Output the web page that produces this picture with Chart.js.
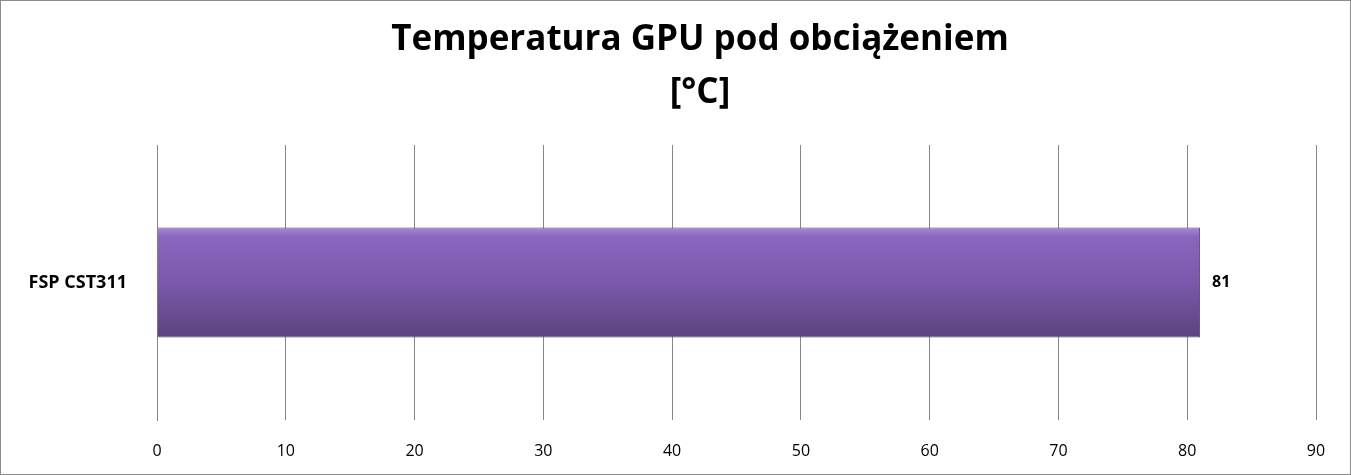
<!DOCTYPE html>
<html lang="pl">
<head>
<meta charset="UTF-8">
<title>Temperatura GPU</title>
<script src="https://cdn.jsdelivr.net/npm/chart.js"></script>
<style>
  html, body { margin: 0; padding: 0; background: #fff; }
  #wrap { width: 1351px; height: 475px; }
</style>
</head>
<body>
<div id="wrap"><canvas id="chart" width="1351" height="475"></canvas></div>
<script>
const categories = ['FSP CST311'];
const temps = [81];
const xTicks = [0, 10, 20, 30, 40, 50, 60, 70, 80, 90];
const titleLines = ['Temperatura GPU pod obciążeniem', '[°C]'];

const FONT = "'Open Sans', 'Liberation Sans', sans-serif";

// frame + title drawn by hand so the title sits where the original has it
const frame = {
  id: 'frame',
  afterDraw(chart) {
    const c = chart.ctx;
    c.save();
    c.strokeStyle = '#8c8c8c';
    c.lineWidth = 1;
    c.strokeRect(0.5, 0.5, chart.width - 1, chart.height - 1);
    c.font = 'bold 35px ' + FONT;
    c.fillStyle = '#000';
    c.textAlign = 'center';
    c.textBaseline = 'middle';
    c.fillText(titleLines[0], 700, 40);
    c.fillText(titleLines[1], 700, 93);
    c.restore();
  }
};

// value written just right of each bar
const valueLabels = {
  id: 'valueLabels',
  afterDatasetsDraw(chart) {
    const c = chart.ctx;
    c.save();
    c.font = 'bold 16px ' + FONT;
    c.fillStyle = '#000';
    c.textBaseline = 'middle';
    chart.getDatasetMeta(0).data.forEach((bar, i) => {
      c.fillText(String(temps[i]), bar.x + 12, bar.y);
    });
    c.restore();
  }
};

const ctx = document.getElementById('chart').getContext('2d');
new Chart(ctx, {
  type: 'bar',
  data: {
    labels: categories,
    datasets: [{
      data: temps,
      backgroundColor: (context) => {
        const a = context.chart.chartArea;
        if (!a) return '#7d5aa8';
        const g = context.chart.ctx.createLinearGradient(0, 228, 0, 338);
        g.addColorStop(0, '#a588d6');
        g.addColorStop(0.08, '#8a66be');
        g.addColorStop(0.5, '#7a58aa');
        g.addColorStop(1, '#5c437f');
        return g;
      },
      borderColor: '#5a3f7e',
      borderWidth: 1,
      barPercentage: 0.8,
      categoryPercentage: 0.5
    }]
  },
  options: {
    indexAxis: 'y',
    responsive: false,
    animation: false,
    layout: { padding: { left: 0, right: 35, top: 145, bottom: 0 } },
    plugins: {
      legend: { display: false },
      tooltip: { enabled: false },
      title: { display: false }
    },
    scales: {
      x: {
        min: 0, max: 90,
        afterBuildTicks: (axis) => { axis.ticks = xTicks.map(v => ({ value: v })); },
        afterFit: (axis) => { axis.height = 55; },
        grid: { color: '#868686', drawTicks: false },
        border: { display: false },
        ticks: { color: '#000', padding: 22, font: { family: FONT, size: 16 } }
      },
      y: {
        afterFit: (axis) => { axis.width = 157; },
        grid: { display: false },
        border: { color: '#868686' },
        ticks: { color: '#000', padding: 22, font: { family: FONT, size: 18, weight: 'bold' } }
      }
    }
  },
  plugins: [frame, valueLabels]
});
</script>
</body>
</html>
